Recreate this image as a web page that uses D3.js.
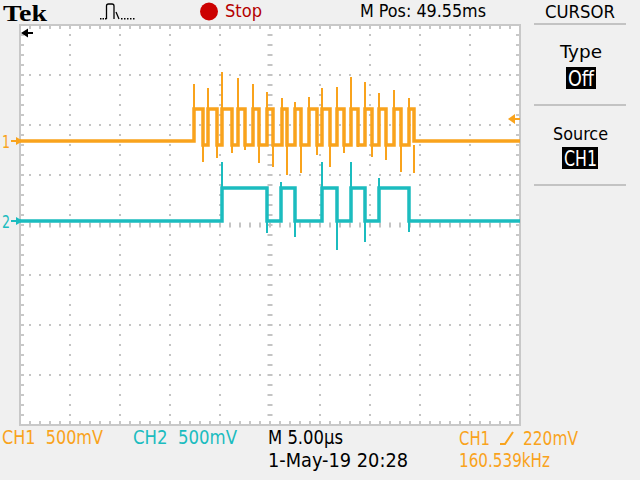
<!DOCTYPE html>
<html><head><meta charset="utf-8">
<script src="https://cdn.jsdelivr.net/npm/d3@7"></script>
<style>
body{margin:0;background:#f0f0f0;}
svg{display:block}
text{white-space:pre}
</style>
</head><body>
<svg id="scope" width="640" height="480"></svg>
<script>
// ---------- scope settings ----------
const timeWindowUs = [0, 50];        // 10 div x 5.00 us/div
const vertDivRange = [-4, 4];        // 8 vertical divisions
const mVPerDiv = 500;
const ch1OffsetDiv = 1.68;
const ch2OffsetDiv = 0.08;
const triggerLevelmV = 220;

// ---------- CH1 (orange) ----------
const ch1RiseUs     = [17.4, 18.8, 20.2, 21.8, 23.3, 24.7, 26.2, 27.5, 28.9, 30.2, 31.7, 33.1, 34.5, 35.9, 37.4, 38.9];
const ch1FallUs     = [18.3, 19.7, 21.2, 22.5, 23.9, 25.3, 26.7, 28.1, 29.7, 31.0, 32.4, 33.8, 35.2, 36.6, 38.1, 39.4];
const ch1RisePeakmV = [570, 530, 690, 630, 570, 490, 430, 390, 440, 530, 540, 640, 590, 480, 510, 430];
const ch1FallDipmV  = [-210, -170, -120, -90, -220, -260, -340, -320, -140, -260, -120, -60, -160, -190, -310, -320];
const ch1HighmV = 320;
const ch1BurstLowmV = -40;
const ch1IdlemV = 0;

// ---------- CH2 (cyan) ----------
const ch2EdgeUs      = [20.2, 24.7, 26.1, 27.5, 30.2, 31.7, 33.1, 34.5, 35.9, 38.9];
const ch2EdgeSpikemV = [590, -120, 390, -160, 590, -290, 590, -210, 430, -110];
const ch2HighmV = 330;
const ch2LowmV = 0;

// ---------- scales ----------
const svg = d3.select("#scope");
const x = d3.scaleLinear().domain(timeWindowUs).range([20, 520]);
const y = d3.scaleLinear().domain(vertDivRange).range([425, 25]);
const yCh = (off) => (mv) => y(off + mv / mVPerDiv);
const y1 = yCh(ch1OffsetDiv), y2 = yCh(ch2OffsetDiv);

const ORANGE = "#f9a31c", CYAN = "#1bbcbf", GRID = "#c4c4c4", BORDER = "#c8c8c8";
const FONT = "'Liberation Sans Narrow','DejaVu Sans Condensed','Liberation Sans',sans-serif";

// ---------- graticule ----------
const grat = svg.append("g");
grat.append("rect").attr("x", x(0)).attr("y", y(4)).attr("width", x(50) - x(0)).attr("height", y(-4) - y(4)).attr("fill", "#fff");

const majorT = d3.range(timeWindowUs[0], timeWindowUs[1] + 0.01, 5);
const minorT = d3.range(timeWindowUs[0], timeWindowUs[1] + 0.01, 1);
const majorV = d3.range(vertDivRange[0], vertDivRange[1] + 0.01, 1);
const minorV = d3.range(vertDivRange[0], vertDivRange[1] + 0.001, 0.2);

majorT.slice(1, -1).forEach(t => {
  const cx = x(t);
  minorV.forEach(v => {
    if (t === 25) grat.append("rect").attr("x", cx - 2.5).attr("y", y(v) - 1).attr("width", 5).attr("height", 2).attr("fill", GRID);
    else grat.append("rect").attr("x", cx - 1).attr("y", y(v) - 1).attr("width", 2).attr("height", 2).attr("fill", GRID);
  });
});
majorV.slice(1, -1).forEach(v => {
  const cy = y(v);
  minorT.forEach(t => {
    if (v === 0) grat.append("rect").attr("x", x(t) - 1).attr("y", cy - 2.5).attr("width", 2).attr("height", 5).attr("fill", GRID);
    else grat.append("rect").attr("x", x(t) - 1).attr("y", cy - 1).attr("width", 2).attr("height", 2).attr("fill", GRID);
  });
});
minorT.forEach(t => {
  grat.append("rect").attr("x", x(t) - 1).attr("y", y(4)).attr("width", 2).attr("height", 4).attr("fill", BORDER);
  grat.append("rect").attr("x", x(t) - 1).attr("y", y(-4) - 4).attr("width", 2).attr("height", 4).attr("fill", BORDER);
});
minorV.forEach(v => {
  grat.append("rect").attr("x", x(0)).attr("y", y(v) - 1).attr("width", 4).attr("height", 2).attr("fill", BORDER);
  grat.append("rect").attr("x", x(50) - 4).attr("y", y(v) - 1).attr("width", 4).attr("height", 2).attr("fill", BORDER);
});
grat.append("rect").attr("x", x(0)).attr("y", y(4)).attr("width", x(50) - x(0)).attr("height", y(-4) - y(4))
  .attr("fill", "none").attr("stroke", BORDER).attr("stroke-width", 2);

// ---------- traces ----------
const line = (sy) => d3.line().x(d => x(d[0])).y(d => sy(d[1]));

const ch1Level = [[timeWindowUs[0], ch1IdlemV]];
ch1RiseUs.forEach((r, i) => {
  const prev = i === 0 ? ch1IdlemV : ch1BurstLowmV;
  const f = ch1FallUs[i];
  const after = i === ch1RiseUs.length - 1 ? ch1IdlemV : ch1BurstLowmV;
  ch1Level.push([r, prev], [r, ch1HighmV], [f, ch1HighmV], [f, after]);
});
ch1Level.push([timeWindowUs[1], ch1IdlemV]);

const ch2Level = [[timeWindowUs[0], ch2LowmV]];
ch2EdgeUs.forEach((t, i) => {
  const from = i % 2 === 0 ? ch2LowmV : ch2HighmV;
  const to = i % 2 === 0 ? ch2HighmV : ch2LowmV;
  ch2Level.push([t, from], [t, to]);
});
ch2Level.push([timeWindowUs[1], ch2LowmV]);

const traces = svg.append("g").attr("fill", "none").attr("stroke-linejoin", "miter");
traces.append("path").attr("d", line(y1)(ch1Level)).attr("stroke", ORANGE).attr("stroke-width", 3.5);
ch1RiseUs.forEach((r, i) => {
  traces.append("path").attr("d", line(y1)([[r, ch1HighmV], [r, ch1RisePeakmV[i]]])).attr("stroke", ORANGE).attr("stroke-width", 2);
  traces.append("path").attr("d", line(y1)([[ch1FallUs[i], ch1BurstLowmV], [ch1FallUs[i], ch1FallDipmV[i]]])).attr("stroke", ORANGE).attr("stroke-width", 2);
});
traces.append("path").attr("d", line(y2)(ch2Level)).attr("stroke", CYAN).attr("stroke-width", 3.5);
ch2EdgeUs.forEach((t, i) => {
  const base = i % 2 === 0 ? ch2HighmV : ch2LowmV;
  traces.append("path").attr("d", line(y2)([[t, base], [t, ch2EdgeSpikemV[i]]])).attr("stroke", CYAN).attr("stroke-width", 2);
});

// ---------- markers ----------
const mk = svg.append("g");
mk.append("path").attr("d", "M21,33 L28,28.5 L28,37.5 Z").attr("fill", "#000");
mk.append("rect").attr("x", 27).attr("y", 32).attr("width", 6).attr("height", 2).attr("fill", "#000");
const ty = y1(triggerLevelmV);
mk.append("path").attr("d", `M508,${ty} L515,${ty - 5} L515,${ty + 5} Z`).attr("fill", ORANGE);
mk.append("rect").attr("x", 514).attr("y", ty - 1).attr("width", 6).attr("height", 2).attr("fill", ORANGE);
[[y1(0), "1", ORANGE], [y2(0), "2", CYAN]].forEach(([gy, lab, col]) => {
  mk.append("text").attr("x", 2).attr("y", gy + 6.5).attr("font-family", FONT).attr("font-size", 17).attr("fill", col)
    .attr("textLength", 8).attr("lengthAdjust", "spacingAndGlyphs").text(lab);
  mk.append("rect").attr("x", 11).attr("y", gy - 1).attr("width", 6).attr("height", 2).attr("fill", col);
  mk.append("path").attr("d", `M23,${gy} L16,${gy - 4} L16,${gy + 4} Z`).attr("fill", col);
});

// ---------- header ----------
function txt(str, x0, yb, size, len, col, extra) {
  const t = svg.append("text").attr("x", x0).attr("y", yb).attr("font-family", FONT).attr("font-size", size)
    .attr("fill", col || "#000").text(str);
  if (len) t.attr("textLength", len).attr("lengthAdjust", "spacingAndGlyphs");
  if (extra) extra(t);
  return t;
}
txt("Tek", 3, 21, 23, 44, "#000", t => t.attr("font-family", "'Liberation Serif','DejaVu Serif',serif").attr("font-weight", "bold"));
svg.append("path").attr("d", "M106.5,19 L106.5,6 Q106.5,4 108.5,4 L112,4 Q114,4 114,6 L114,19 M116,12 L119,19")
  .attr("fill", "none").attr("stroke", "#000").attr("stroke-width", 1.3);
[100, 102.5, 105, 121, 124, 127, 130, 133].forEach(d => svg.append("rect").attr("x", d).attr("y", 18).attr("width", 1.5).attr("height", 1.5).attr("fill", "#000"));
svg.append("circle").attr("cx", 209).attr("cy", 11.5).attr("r", 9).attr("fill", "#cc0000");
txt("Stop", 225, 17, 18, 37, "#b50000");
txt("M Pos: 49.55ms", 360, 17, 18, 126);
txt("CURSOR", 545, 18, 18, 70);

// ---------- side menu ----------
[24, 105, 185].forEach(ly => svg.append("rect").attr("x", 534).attr("y", ly - 1).attr("width", 92).attr("height", 2).attr("fill", "#c3c3c3"));
txt("Type", 560, 58, 18, 42);
svg.append("rect").attr("x", 566).attr("y", 67).attr("width", 30).attr("height", 22).attr("fill", "#000");
txt("Off", 568, 86, 22, 26, "#fff");
txt("Source", 553, 140, 18, 55);
svg.append("rect").attr("x", 562).attr("y", 147).attr("width", 36).attr("height", 22).attr("fill", "#000");
txt("CH1", 564, 166, 22, 33, "#fff");

// ---------- bottom readouts ----------
txt("CH1  500mV", 2, 444, 19, 101, ORANGE);
txt("CH2  500mV", 133, 444, 19, 104, CYAN);
txt("M 5.00µs", 268, 444, 19, 75);
txt("1-May-19 20:28", 268, 467, 19, 140);
txt("CH1", 459, 445, 19, 31, ORANGE);
svg.append("path").attr("d", "M500,444 L505,444 L513,432").attr("fill", "none").attr("stroke", ORANGE).attr("stroke-width", 2);
txt("220mV", 523, 445, 19, 55, ORANGE);
txt("160.539kHz", 459, 467, 19, 91, ORANGE);
</script>
</body></html>
